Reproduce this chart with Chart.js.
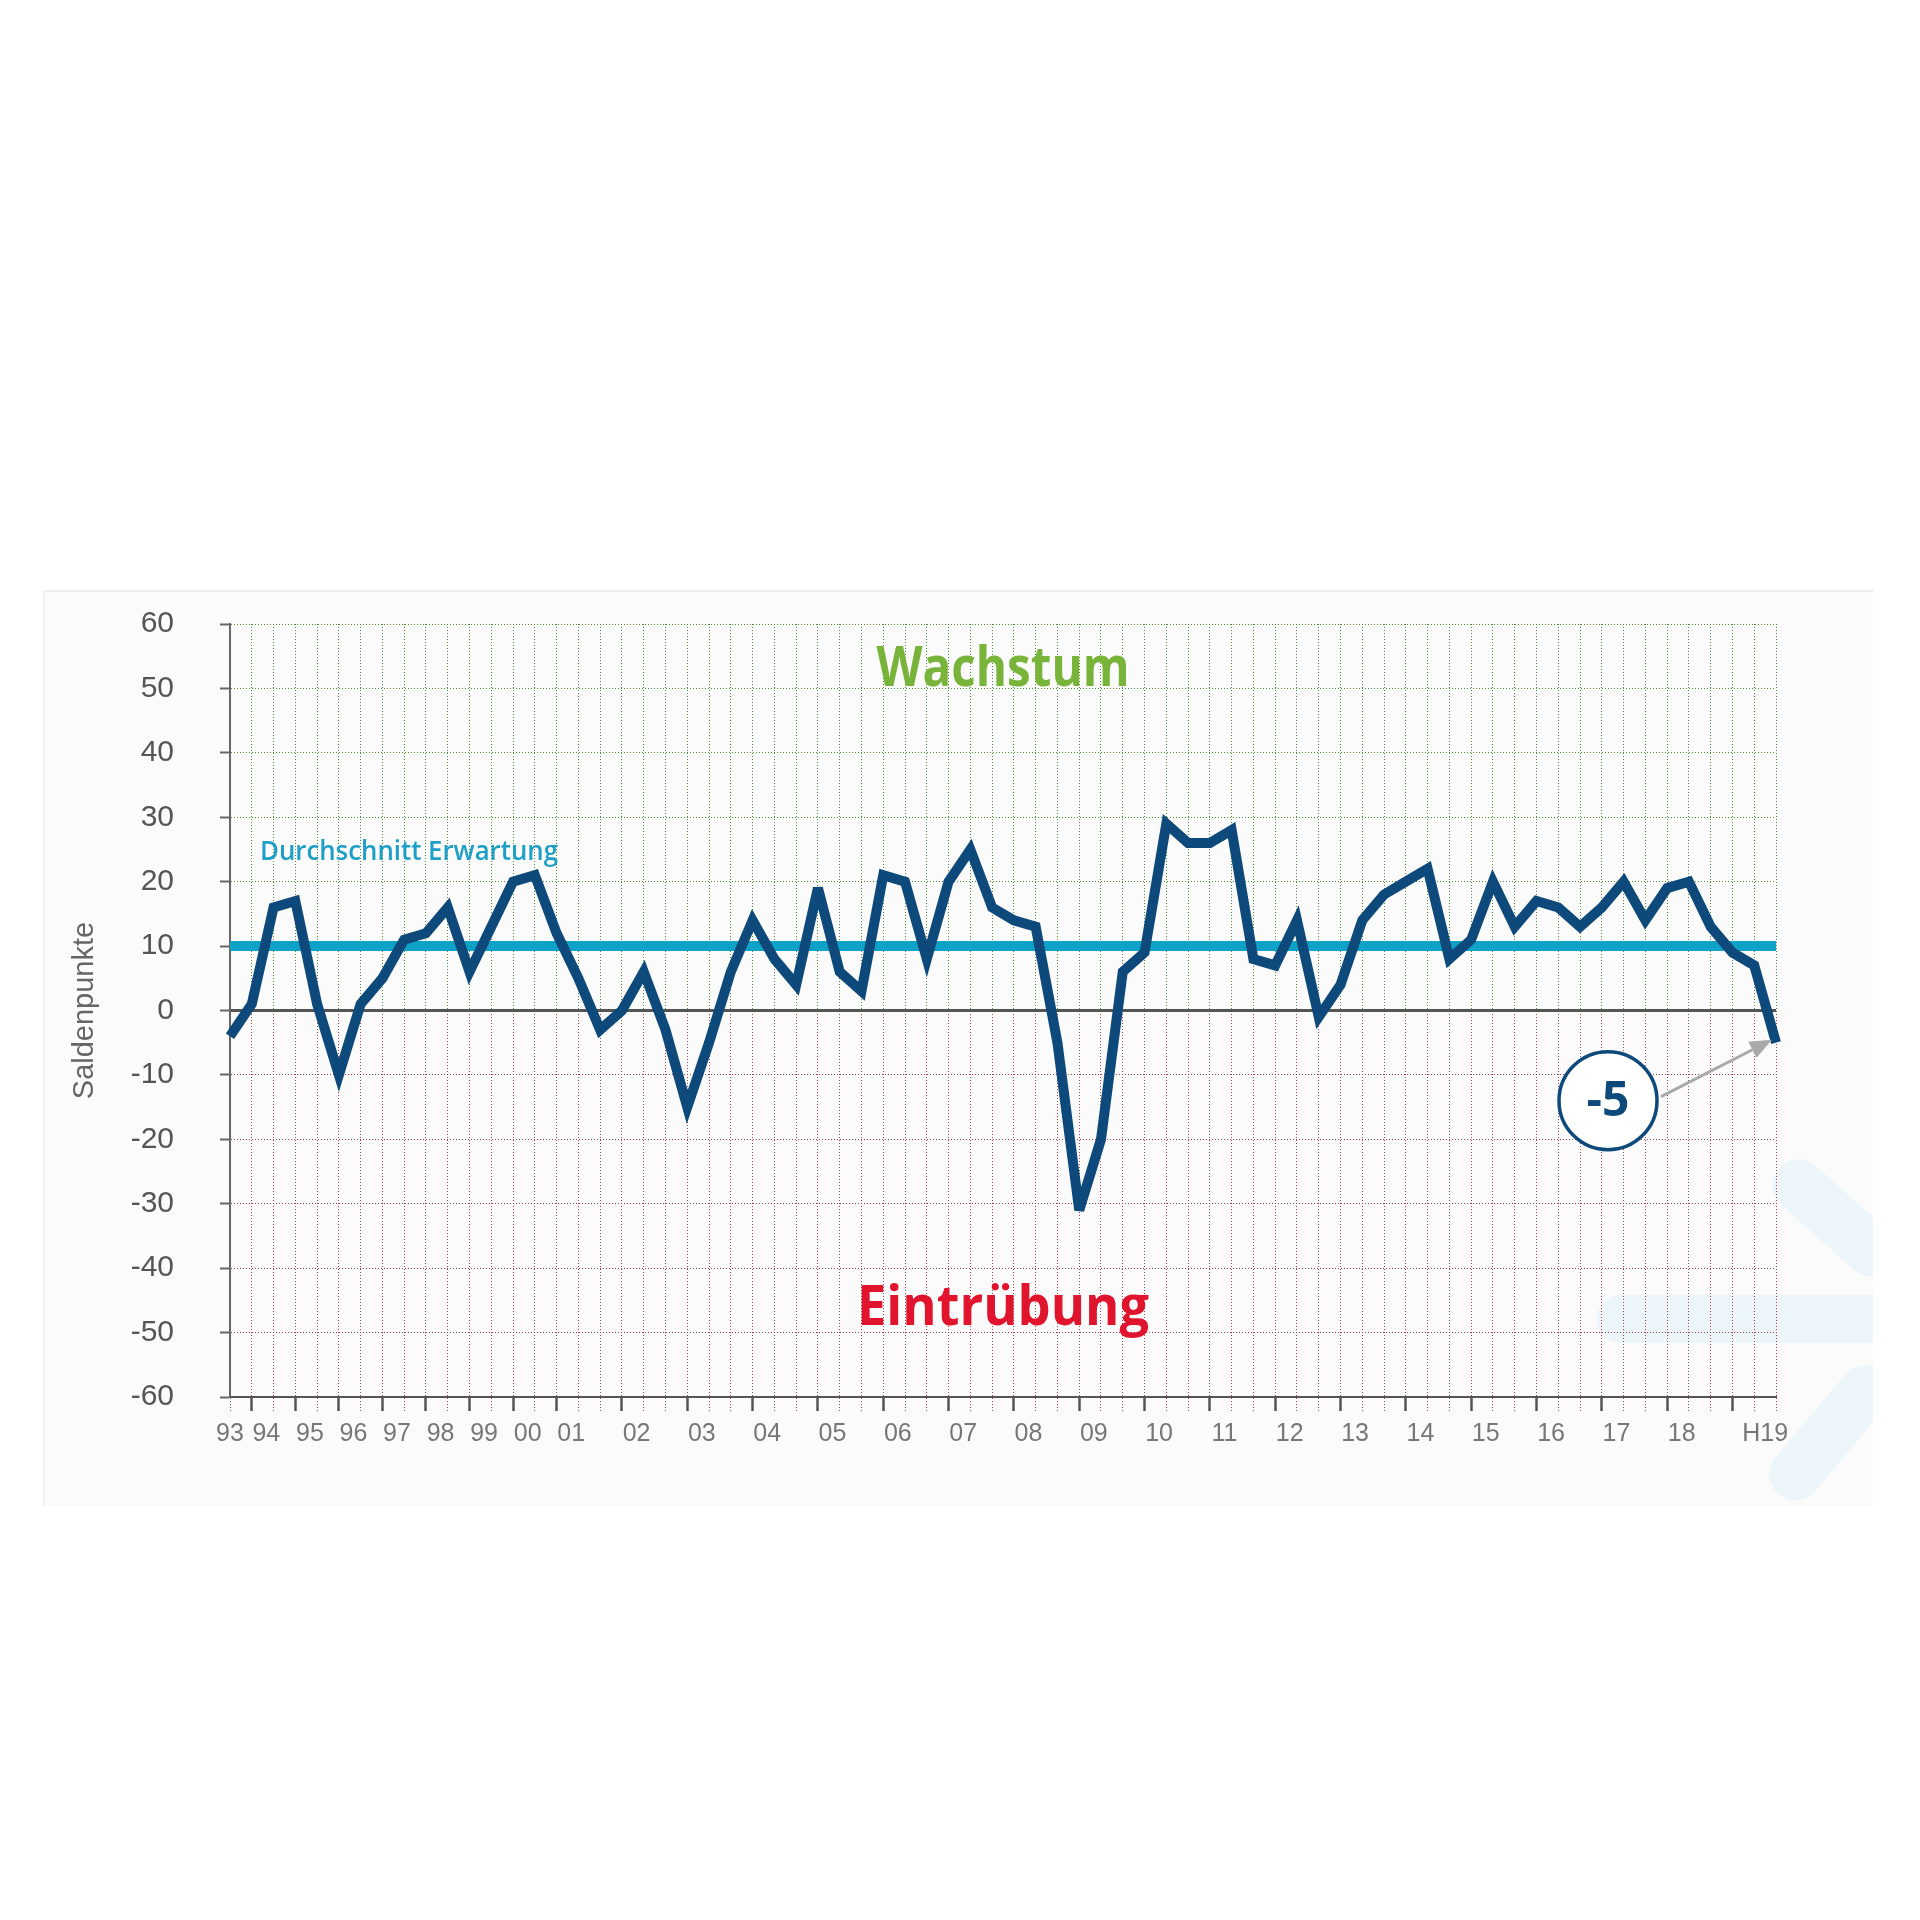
<!DOCTYPE html>
<html><head><meta charset="utf-8">
<script src="https://cdn.jsdelivr.net/npm/chart.js@4.4.1/dist/chart.umd.min.js"></script>
<style>
html,body{margin:0;padding:0;background:#fff;}
#wrap{position:relative;width:1920px;height:1920px;overflow:hidden;background:#fff;}
#panel{position:absolute;left:43px;top:590px;width:1828px;height:914px;background:#fbfbfb;border-top:2px solid #ececec;border-left:2px solid #f1f1f1;overflow:hidden;}
.deco{position:absolute;background:#ebf5fa;border-radius:26px;}
canvas{position:absolute;left:0;top:0;}
</style></head><body>
<div id="wrap">
<div id="panel">
  <div class="deco" style="left:1552px;top:703px;width:300px;height:48px;"></div>
  <div class="deco" style="left:1715px;top:600px;width:150px;height:52px;transform:rotate(42deg);"></div>
  <div class="deco" style="left:1705px;top:815px;width:160px;height:52px;transform:rotate(-50deg);"></div>
</div>
<canvas id="c" width="1920" height="1920"></canvas>
</div>
<script>
// ---- data ----
const years = ['93','94','95','96','97','98','99','00','01','02','03','04','05','06','07','08','09','10','11','12','13','14','15','16','17','18','H19'];
const surveysPerYear = [1,2,2,2,2,2,2,2,3,3,3,3,3,3,3,3,3,3,3,3,3,3,3,3,3,3,3];
const expectations = [-4,1,16,17,1,-10,1,5,11,12,16,6,13,20,21,12,5,-3,0,6,-3,-15,-5,6,14,8,4,19,6,3,21,20,8,20,25,16,14,13,-5,-31,-20,6,9,29,26,26,28,8,7,14,-1,4,14,18,20,22,8,11,20,13,17,16,13,16,20,14,19,20,13,9,7,-5];
const averageExpectation = 10;
const yMin = -60, yMax = 60, yStep = 10;
const axisTitle = 'Saldenpunkte';
const labelGrowth = 'Wachstum';
const labelDecline = 'Eintrübung';
const labelAverage = 'Durchschnitt Erwartung';

// ---- derived ----
const periods = [];
const yearStart = [];
years.forEach((yr, i) => {
  yearStart.push(periods.length);
  for (let k = 0; k < surveysPerYear[i]; k++) periods.push(yr + '/' + (k + 1));
});
const majorTicks = new Set(yearStart.slice(1));
const labelPos = yearStart.map((s, i) => i === 0 ? s : (i === years.length - 1 ? s + 1.5 : s + 0.67));

const FONT = "'Liberation Sans', Arial, sans-serif";
const BOLD = "'Open Sans', 'Liberation Sans', sans-serif";
const GREEN = '#4f8a34', RED = '#a8404a';
const NAVY = '#0d4a7b', CYAN = '#0fa2c7';

let gradCache = null;
function vGrad(chart) {
  const a = chart.chartArea, y = chart.scales.y;
  if (!a || !y) return GREEN;
  const z = y.getPixelForValue(0);
  const top = a.top, bot = a.bottom + 20;
  const key = top + '_' + z + '_' + bot;
  if (gradCache && gradCache.key === key) return gradCache.g;
  const g = chart.ctx.createLinearGradient(0, top, 0, bot);
  const f = (z - top) / (bot - top);
  g.addColorStop(0, GREEN); g.addColorStop(f, GREEN);
  g.addColorStop(f, RED); g.addColorStop(1, RED);
  gradCache = {key, g};
  return g;
}

const annotations = {
  id: 'annotations',
  beforeDatasetsDraw(chart) { chart.ctx.miterLimit = 4; },
  afterDatasetsDraw(chart) {
    const {ctx, chartArea: a, scales: {y}} = chart;
    ctx.miterLimit = 10;
    const cx = (a.left + a.right) / 2;
    ctx.save();
    ctx.textAlign = 'center'; ctx.textBaseline = 'alphabetic';
    ctx.font = 'bold 56px ' + BOLD;
    ctx.fillStyle = '#79b43a';
    ctx.fillText(labelGrowth, cx, y.getPixelForValue(50.4), 253);
    ctx.fillStyle = '#e1142e';
    ctx.fillText(labelDecline, cx, y.getPixelForValue(-48.8), 292);
    ctx.textAlign = 'left';
    ctx.fillStyle = '#1e9fc8';
    ctx.font = '600 27px ' + BOLD;
    ctx.fillText(labelAverage, a.left + 30, y.getPixelForValue(23.4), 298);

    const meta = chart.getDatasetMeta(0);
    const pt = meta.data[meta.data.length - 1];
    const px = pt.x, py = pt.y;
    const ccx = px - 168, ccy = py + 58, r = 49;
    const sx = ccx + r + 4, sy = ccy - 4, tx = px - 4, ty = py - 3;
    const ang = Math.atan2(ty - sy, tx - sx);
    const hl = 22, hw = 9;
    const bx = tx - hl * Math.cos(ang), by = ty - hl * Math.sin(ang);
    ctx.strokeStyle = '#a9a9a9'; ctx.lineWidth = 3;
    ctx.beginPath(); ctx.moveTo(sx, sy); ctx.lineTo(bx, by); ctx.stroke();
    ctx.fillStyle = '#a9a9a9';
    ctx.beginPath(); ctx.moveTo(tx, ty);
    ctx.lineTo(bx - hw * Math.sin(ang), by + hw * Math.cos(ang));
    ctx.lineTo(bx + hw * Math.sin(ang), by - hw * Math.cos(ang));
    ctx.closePath(); ctx.fill();

    ctx.beginPath(); ctx.arc(ccx, ccy, r, 0, Math.PI * 2);
    ctx.fillStyle = '#fff'; ctx.fill();
    ctx.lineWidth = 3.5; ctx.strokeStyle = NAVY; ctx.stroke();
    ctx.fillStyle = NAVY; ctx.font = 'bold 48px ' + BOLD;
    ctx.textAlign = 'center'; ctx.textBaseline = 'middle';
    ctx.fillText(String(expectations[expectations.length - 1]), ccx, ccy + 2);
    ctx.restore();
  }
};

new Chart(document.getElementById('c'), {
  type: 'line',
  data: {
    labels: periods,
    datasets: [
      {
        label: 'Erwartungen',
        data: expectations,
        xAxisID: 'x', yAxisID: 'y',
        borderColor: NAVY, borderWidth: 10,
        borderJoinStyle: 'miter', borderCapStyle: 'butt',
        pointRadius: 0, tension: 0, fill: false
      },
      {
        label: labelAverage,
        data: [{x: periods[0], y: averageExpectation}, {x: periods[periods.length - 1], y: averageExpectation}],
        xAxisID: 'x', yAxisID: 'y',
        borderColor: CYAN, borderWidth: 10, borderCapStyle: 'butt',
        pointRadius: 0, fill: false
      }
    ]
  },
  options: {
    responsive: false,
    animation: false,
    devicePixelRatio: 1,
    layout: {padding: {left: 0, top: 624, right: 144, bottom: 0}},
    plugins: {legend: {display: false}, tooltip: {enabled: false}},
    scales: {
      x: {
        type: 'category',
        position: 'bottom',
        weight: 0,
        offset: false,
        afterFit(s) { s.height = 14; },
        ticks: {display: false, autoSkip: false},
        grid: {
          color: c => vGrad(c.chart),
          lineWidth: 1,
          tickLength: 14,
          tickColor: c => majorTicks.has(c.index) ? '#555' : vGrad(c.chart),
          tickWidth: c => majorTicks.has(c.index) ? 2.5 : 1,
          tickBorderDash: c => majorTicks.has(c.index) ? [] : [1, 2]
        },
        border: {color: '#555', width: 2, dash: [1, 2]}
      },
      xl: {
        type: 'linear',
        position: 'bottom',
        weight: 1,
        min: 0, max: periods.length - 1,
        afterFit(s) { s.height = 509; },
        afterBuildTicks(s) { s.ticks = labelPos.map(v => ({value: v})); },
        ticks: {
          autoSkip: false, maxRotation: 0, minRotation: 0, padding: 8,
          color: '#777', font: {family: FONT, size: 25},
          callback: (v, i) => years[i]
        },
        grid: {display: false, drawTicks: false},
        border: {display: false}
      },
      y: {
        min: yMin, max: yMax,
        afterFit(s) { s.width = 230; },
        ticks: {stepSize: yStep, padding: 46, color: '#555', font: {family: FONT, size: 30}},
        grid: {
          color: c => c.tick.value === 0 ? '#555' : (c.tick.value > 0 ? GREEN : RED),
          lineWidth: c => c.tick.value === 0 ? 3 : 1,
          tickLength: 10, tickColor: '#666', tickWidth: 2, tickBorderDash: []
        },
        border: {color: '#666', width: 2, dash: c => (c.tick && c.tick.value === 0) ? [] : [1, 2]},
        title: {display: true, text: axisTitle, color: '#666', font: {family: FONT, size: 29}, padding: {top: 68, bottom: 0}}
      }
    }
  },
  plugins: [annotations]
});
</script>
</body></html>
